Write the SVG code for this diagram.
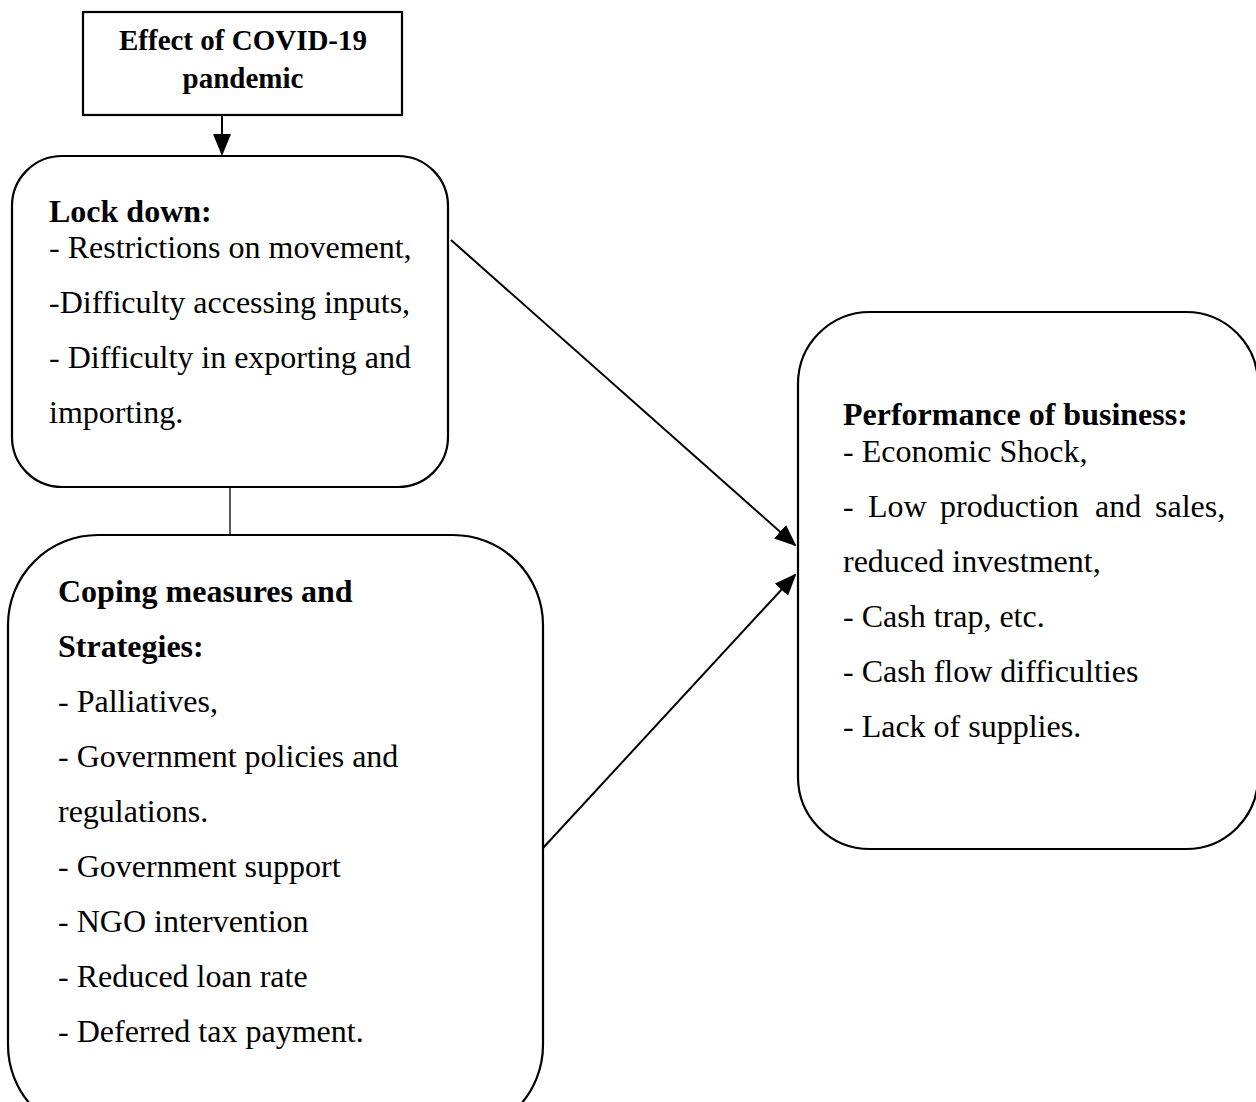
<svg xmlns="http://www.w3.org/2000/svg" width="1256" height="1102" viewBox="0 0 1256 1102">
<style>
.box{fill:#fff;stroke:#000;stroke-width:2.2}
.t{font-family:"Liberation Serif","Times New Roman",serif;font-size:32px;fill:#000}
.b{font-weight:bold}
.tt{font-family:"Liberation Serif","Times New Roman",serif;font-size:29px;font-weight:bold;fill:#000}
.c{stroke:#000;stroke-width:2;fill:none}
</style>
<defs>
<marker id="ah2" markerWidth="22" markerHeight="18" refX="20" refY="9" orient="auto" markerUnits="userSpaceOnUse" viewBox="0 0 22 18">
<path d="M0,0 L22,9 L0,18 z" fill="#000"/>
</marker>
</defs>
<rect width="1256" height="1102" fill="#fff"/>
<g id="connectors">
<line class="c" x1="222" y1="115" x2="222" y2="154" marker-end="url(#ah2)"/>
<line x1="230" y1="487" x2="230" y2="535" stroke="#000" stroke-width="1.3"/>
<line class="c" x1="451" y1="240" x2="795" y2="545" marker-end="url(#ah2)"/>
<line class="c" x1="543" y1="848" x2="795" y2="575" marker-end="url(#ah2)"/>
</g>
<g id="node-effect">
<rect class="box" x="83" y="12" width="319" height="103"/>
<text class="tt" x="243" y="50" text-anchor="middle">Effect of COVID-19</text>
<text class="tt" x="243" y="88" text-anchor="middle">pandemic</text>
</g>
<g id="node-lockdown">
<rect class="box" x="12" y="156" width="436" height="331" rx="50" ry="50"/>
<text class="t b" x="49" y="222">Lock down:</text>
<text class="t" x="49" y="258">- Restrictions on movement,</text>
<text class="t" x="49" y="313">-Difficulty accessing inputs,</text>
<text class="t" x="49" y="368">- Difficulty in exporting and</text>
<text class="t" x="49" y="423">importing.</text>
</g>
<g id="node-coping">
<rect class="box" x="8" y="535" width="535" height="600" rx="90" ry="90"/>
<text class="t b" x="58" y="602">Coping measures and</text>
<text class="t b" x="58" y="657">Strategies:</text>
<text class="t" x="58" y="712">- Palliatives,</text>
<text class="t" x="58" y="767">- Government policies and</text>
<text class="t" x="58" y="822">regulations.</text>
<text class="t" x="58" y="877">- Government support</text>
<text class="t" x="58" y="932">- NGO intervention</text>
<text class="t" x="58" y="987">- Reduced loan rate</text>
<text class="t" x="58" y="1042">- Deferred tax payment.</text>
</g>
<g id="node-performance">
<rect class="box" x="798" y="312" width="460" height="537" rx="72" ry="72"/>
<text class="t b" x="843" y="425">Performance of business:</text>
<text class="t" x="843" y="462">- Economic Shock,</text>
<text class="t" y="517"><tspan x="843">-</tspan><tspan x="868">Low</tspan><tspan x="940">production</tspan><tspan x="1095">and</tspan><tspan x="1155">sales,</tspan></text>
<text class="t" x="843" y="572">reduced investment,</text>
<text class="t" x="843" y="627">- Cash trap, etc.</text>
<text class="t" x="843" y="682">- Cash flow difficulties</text>
<text class="t" x="843" y="737">- Lack of supplies.</text>
</g>
</svg>
